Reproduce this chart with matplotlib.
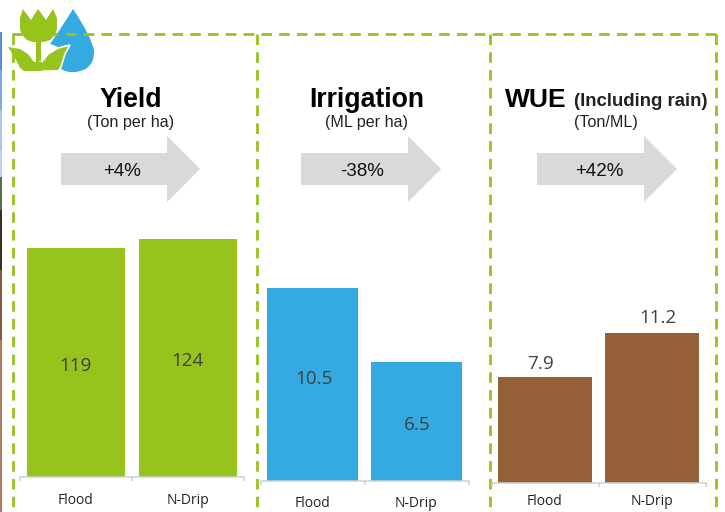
#!/usr/bin/env python3
# Flood vs N-Drip: yield, irrigation and water use efficiency panels

import matplotlib
matplotlib.use("Agg")
import matplotlib.pyplot as plt
from matplotlib.patches import Polygon, PathPatch, Rectangle
from matplotlib.path import Path

W, H = 725, 512

categories = ["Flood", "N-Drip"]
yield_values = [119, 124]
irrigation_values = [10.5, 6.5]
wue_values = [7.9, 11.2]
yield_labels = ["119", "124"]
irrigation_labels = ["10.5", "6.5"]
wue_labels = ["7.9", "11.2"]
changes = ["+4%", "-38%", "+42%"]

GREEN = "#97C31D"
BLUE = "#35A9E1"
BROWN = "#955F38"
GREY = "#D9D9D9"
LINE = "#CFCFCF"
VALUE_FONT = "Open Sans"
HEAD_FONT = "Liberation Sans"

fig = plt.figure(figsize=(W / 100, H / 100), dpi=100)

# overlay in pixel coordinates for the boxes, arrows, headings and icon
bg = fig.add_axes([0, 0, 1, 1])
bg.set_xlim(0, W)
bg.set_ylim(H, 0)
bg.axis("off")

# sliver of a photo at the left edge
strip = [(32, 70, "#5F8AD2"), (70, 110, "#7FA8E4"), (110, 150, "#A3C6F2"), (150, 177, "#B9D2F0"),
         (177, 210, "#5E6B4A"), (210, 270, "#3A2E20"), (270, 340, "#8A5A40"), (340, 512, "#B07C5E")]
for y0, y1, c in strip:
    bg.add_patch(Rectangle((0, y0), 2, y1 - y0, color=c, lw=0))

# dashed boxes
dash = dict(color=GREEN, lw=2, ls=(0, (3.8, 2.6)))
bg.plot([12, 716], [34, 34], **dash)
for x in [13, 257, 490, 716]:
    bg.plot([x, x], [34, 512], **dash)


def arrow(x0, x1, yc):
    # block arrow, shaft to x1-33, head out to x1
    pts = [(x0, yc - 16), (x1 - 33, yc - 16), (x1 - 33, yc - 33), (x1, yc),
           (x1 - 33, yc + 33), (x1 - 33, yc + 16), (x0, yc + 16)]
    bg.add_patch(Polygon(pts, closed=True, color=GREY, lw=0))


arrow(61, 200, 169)
arrow(301, 441, 169)
arrow(537, 677, 169)
bg.text(122, 171, changes[0], ha="center", va="center", fontsize=13.5, family=HEAD_FONT, color="#111111")
bg.text(362, 171, changes[1], ha="center", va="center", fontsize=13.5, family=HEAD_FONT, color="#111111")
bg.text(599, 171, changes[2], ha="center", va="center", fontsize=13.5, family=HEAD_FONT, color="#111111")

# headings
bg.text(131, 100, "Yield", ha="center", va="center", fontsize=19.2, weight="bold", family=HEAD_FONT)
bg.text(131, 123, "(Ton per ha)", ha="center", va="center", fontsize=11.6, family=HEAD_FONT, color="#222222")
bg.text(366.5, 100, "Irrigation", ha="center", va="center", fontsize=19.2, weight="bold", family=HEAD_FONT)
bg.text(366.5, 123, "(ML per ha)", ha="center", va="center", fontsize=11.6, family=HEAD_FONT, color="#222222")
bg.text(505, 100, "WUE", ha="left", va="center", fontsize=19, weight="bold", family=HEAD_FONT)
bg.text(574, 102, "(Including rain)", ha="left", va="center", fontsize=13.45, weight="bold", family=HEAD_FONT, color="#222222")
bg.text(606, 123, "(Ton/ML)", ha="center", va="center", fontsize=11.6, family=HEAD_FONT, color="#222222")

# tulip and water drop icon, white patches hide the dashes behind it
bg.add_patch(Rectangle((18, 28), 80, 12, color="white", lw=0))
bg.add_patch(Rectangle((6, 40), 12, 24, color="white", lw=0))
M, C, L, Z = Path.MOVETO, Path.CURVE3, Path.LINETO, Path.CLOSEPOLY
drop = [(73, 9), (62, 27), (50, 44), (50, 44), (50, 44), (72, 50), (60, 68),
        (66, 73), (75, 72), (95, 70), (94, 50), (90, 34), (73, 9), (73, 9)]
drop_codes = [M, C, C, C, C, C, C, C, C, C, C, C, C, Z]
bg.add_patch(PathPatch(Path(drop, drop_codes), facecolor=BLUE, lw=0))
tulip = [(23, 9), (31, 20), (38, 9), (46, 20), (53, 9), (57, 18), (57, 29), (55, 35), (50, 40), (44, 42),
         (33, 42), (27, 40), (22, 35), (20, 29), (20, 18)]
bg.add_patch(Polygon(tulip, closed=True, color=GREEN, lw=0))
bg.add_patch(Rectangle((36, 40), 5, 31, color=GREEN, lw=0))
leaf_left = [(8, 47), (20, 49), (28, 54), (34, 62), (36, 62), (36, 71), (24, 71), (20, 68), (15, 58)]
leaf_right = [(70, 45), (58, 48), (48, 54), (42, 62), (40, 62), (40, 71), (58, 71), (61, 67), (65, 54)]
bg.add_patch(Polygon(leaf_left, closed=True, color=GREEN, lw=0))
bg.add_patch(Polygon(leaf_right, closed=True, facecolor=GREEN, edgecolor="white", lw=1.2))
bg.add_patch(Rectangle((36, 62), 6, 9, color=GREEN, lw=0))


def panel(left, right, base, unit, values, labels, color, bar_w, offsets, pad):
    # one axes per panel, placed so its bottom spine is the baseline
    top_px = 200
    ax = fig.add_axes([left / W, 1 - base / H, (right - left) / W, (base - top_px) / H])
    ax.patch.set_alpha(0)
    ax.set_xlim(-0.5, 1.5)
    ax.set_ylim(0, (base - top_px) / unit)
    ax.bar(range(2), values, width=bar_w, color=color)
    for i, (v, s, off) in enumerate(zip(values, labels, offsets)):
        ax.annotate(s, (i, v / 2), xytext=off, textcoords="offset pixels", ha="center", va="center",
                    fontsize=13.6, family=VALUE_FONT, color="#404040")
    for s in ["top", "left", "right"]:
        ax.spines[s].set_visible(False)
    ax.spines["bottom"].set_color(LINE)
    ax.spines["bottom"].set_linewidth(1.1)
    ax.set_yticks([])
    ax.set_xticks([0, 1])
    ax.set_xticklabels(categories, fontsize=10, family=VALUE_FONT, color="#222222")
    ax.set_xticks([-0.5, 0.5, 1.5], minor=True)
    ax.tick_params(axis="x", which="major", length=0, pad=pad)
    ax.tick_params(axis="x", which="minor", length=3, color=LINE, width=1.1)
    return ax


panel(20, 243.5, 477.3, 1.925, yield_values, yield_labels, GREEN, 0.875,
      [(0, -3), (0, -3)], 11)
panel(260.5, 468.5, 481, 193 / 10.5, irrigation_values, irrigation_labels, BLUE, 0.875,
      [(1.5, 5.5), (1, -3.5)], 11)
panel(491.5, 705.5, 483.3, 106 / 7.9, wue_values, wue_labels, BROWN, 0.878,
      [(-4.5, 66), (5.5, 90)], 8)

fig.savefig("out.png", dpi=100)
